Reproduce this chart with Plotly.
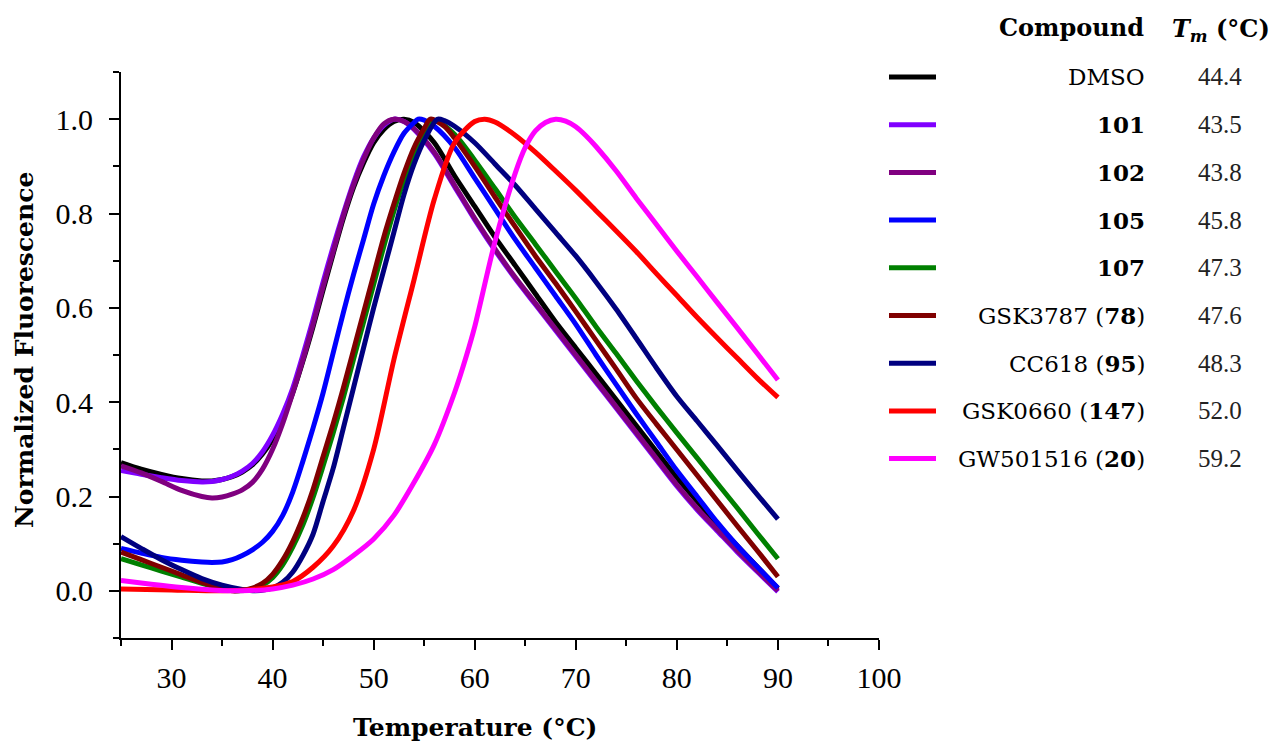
import plotly.graph_objects as go

# Melting curves (normalized fluorescence vs temperature) for each compound
compounds = ["DMSO", "<b>101</b>", "<b>102</b>", "<b>105</b>", "<b>107</b>",
             "GSK3787 (<b>78</b>)", "CC618 (<b>95</b>)", "GSK0660 (<b>147</b>)", "GW501516 (<b>20</b>)"]
tm_values = ["44.4", "43.5", "43.8", "45.8", "47.3", "47.6", "48.3", "52.0", "59.2"]
colors = ["#000000", "#8000ff", "#800080", "#0000ff", "#008000",
          "#800000", "#000080", "#ff0000", "#ff00ff"]

t_dmso = [25, 27, 29, 31, 33, 34, 35, 36, 37, 38, 39, 40, 41, 42, 43, 44, 45, 46, 47, 48, 49, 50, 51, 52, 53, 54,
          56, 58, 60, 62, 64, 66, 68, 70, 72, 74, 76, 78, 80, 82, 84, 86, 88, 90]
f_dmso = [0.272, 0.258, 0.247, 0.238, 0.233, 0.233, 0.236, 0.242, 0.252, 0.267, 0.29, 0.322, 0.365, 0.42, 0.487,
          0.56, 0.638, 0.715, 0.79, 0.855, 0.907, 0.95, 0.978, 0.995, 1.0, 0.993,
          0.95, 0.88, 0.815, 0.75, 0.69, 0.63, 0.57, 0.515, 0.46, 0.405, 0.35, 0.295, 0.24, 0.19, 0.14, 0.095,
          0.05, 0.005]

t_101 = [25, 27, 29, 31, 33, 34, 35, 36, 37, 38, 39, 40, 41, 42, 43, 44, 45, 46, 47, 48, 49, 50, 51, 52, 53, 54,
         56, 58, 60, 62, 64, 66, 68, 70, 72, 74, 76, 78, 80, 82, 84, 86, 88, 90]
f_101 = [0.255, 0.247, 0.24, 0.234, 0.231, 0.232, 0.236, 0.243, 0.254, 0.27, 0.295, 0.33, 0.375, 0.43, 0.5,
         0.575, 0.655, 0.73, 0.8, 0.865, 0.92, 0.96, 0.987, 1.0, 0.995, 0.978,
         0.927, 0.857, 0.787, 0.722, 0.662, 0.607, 0.552, 0.497, 0.442, 0.387, 0.332, 0.277, 0.222, 0.172,
         0.127, 0.082, 0.04, -0.002]

t_102 = [25, 27, 29, 31, 33, 34, 35, 36, 37, 38, 39, 40, 41, 42, 43, 44, 45, 46, 47, 48, 49, 50, 51, 52, 53, 54,
         56, 58, 60, 62, 64, 66, 68, 70, 72, 74, 76, 78, 80, 82, 84, 86, 88, 90]
f_102 = [0.265, 0.25, 0.232, 0.213, 0.2, 0.197, 0.199, 0.205, 0.214, 0.23, 0.258, 0.3, 0.355, 0.42, 0.49,
         0.565, 0.645, 0.72, 0.795, 0.86, 0.915, 0.96, 0.99, 1.0, 0.995, 0.98,
         0.93, 0.86, 0.79, 0.725, 0.665, 0.61, 0.555, 0.5, 0.445, 0.39, 0.335, 0.28, 0.225, 0.175, 0.13, 0.085,
         0.042, 0.0]

t_105 = [25, 27, 29, 31, 33, 34, 35, 36, 37, 38, 39, 40, 41, 42, 43, 44, 45, 46, 47, 48, 49, 50, 51, 52, 53, 54,
         54.4, 55, 56, 58, 60, 62, 64, 66, 68, 70, 72, 74, 76, 78, 80, 82, 84, 86, 88, 90]
f_105 = [0.09, 0.08, 0.071, 0.065, 0.061, 0.06, 0.061, 0.066, 0.075, 0.087, 0.103, 0.126, 0.16, 0.21, 0.275,
         0.345, 0.42, 0.505, 0.59, 0.67, 0.745, 0.82, 0.88, 0.93, 0.97, 0.993,
         1.0, 0.998, 0.985, 0.94, 0.875, 0.81, 0.745, 0.685, 0.625, 0.565, 0.5, 0.437, 0.375, 0.315, 0.255,
         0.2, 0.145, 0.095, 0.05, 0.006]

t_107 = [25, 27, 29, 31, 33, 35, 36.5, 38, 39, 40, 41, 42, 43, 44, 45, 46, 47, 48, 49, 50, 51, 52, 53, 54, 55,
         56, 58, 60, 62, 64, 66, 68, 70, 72, 74, 76, 78, 80, 82, 84, 86, 88, 90]
f_107 = [0.068, 0.055, 0.042, 0.029, 0.016, 0.005, 0.0, 0.004, 0.012, 0.028, 0.055, 0.093, 0.14, 0.198, 0.265,
         0.335, 0.41, 0.49, 0.57, 0.65, 0.73, 0.805, 0.87, 0.925, 0.968,
         0.997, 0.968, 0.913, 0.853, 0.792, 0.735, 0.677, 0.62, 0.56, 0.503, 0.445, 0.389, 0.335, 0.282,
         0.228, 0.175, 0.121, 0.068]

t_78 = [25, 27, 29, 31, 33, 35, 36, 37, 38, 39, 40, 41, 42, 43, 44, 45, 46, 47, 48, 49, 50, 51, 52, 53, 54, 55,
        55.6, 57, 58, 60, 62, 64, 66, 68, 70, 72, 74, 76, 78, 80, 82, 84, 86, 88, 90]
f_78 = [0.082, 0.066, 0.05, 0.034, 0.018, 0.005, 0.0, 0.001, 0.006, 0.016, 0.035, 0.065, 0.105, 0.155, 0.215,
        0.285, 0.355, 0.43, 0.51, 0.59, 0.67, 0.75, 0.82, 0.885, 0.94, 0.98,
        1.0, 0.985, 0.96, 0.9, 0.835, 0.772, 0.71, 0.652, 0.592, 0.531, 0.47, 0.408, 0.353, 0.299, 0.245,
        0.191, 0.137, 0.084, 0.03]

t_95 = [25, 27, 29, 31, 33, 35, 37, 38.3, 40, 41, 42, 43, 44, 45, 46, 47, 48, 49, 50, 51, 52, 53, 54, 55, 56.3,
        57, 58, 60, 62, 64, 66, 68, 70, 72, 74, 76, 78, 80, 82, 84, 86, 88, 90]
f_95 = [0.115, 0.09, 0.066, 0.045, 0.026, 0.012, 0.003, 0.0, 0.006, 0.018, 0.04, 0.075, 0.12, 0.19, 0.26,
        0.345, 0.43, 0.515, 0.6, 0.68, 0.76, 0.84, 0.905, 0.955, 1.0,
        0.997, 0.985, 0.95, 0.905, 0.86, 0.81, 0.76, 0.71, 0.655, 0.597, 0.535, 0.472, 0.412, 0.36, 0.308, 0.255,
        0.203, 0.152]

t_147 = [25, 30, 35, 38, 40, 42, 44, 46, 48, 50, 52, 54, 56, 58, 60, 61, 62, 64, 66, 68, 70, 72, 74, 76, 78,
         80, 82, 84, 86, 88, 90]
f_147 = [0.004, 0.002, 0.0, 0.003, 0.008, 0.02, 0.05, 0.095, 0.17, 0.3, 0.49, 0.66, 0.83, 0.95, 0.995, 1.0,
         0.994, 0.966, 0.93, 0.89, 0.849, 0.806, 0.763, 0.719, 0.672, 0.626, 0.58, 0.536, 0.493, 0.45, 0.41]

t_20 = [25, 28, 31, 34, 37, 40, 42, 44, 46, 48, 50, 52, 54, 56, 58, 59.2, 60, 62, 64, 65, 66, 67, 68, 69, 70,
        71, 72, 74, 76, 78, 80, 82, 84, 86, 88, 90]
f_20 = [0.022, 0.014, 0.007, 0.002, 0.0, 0.004, 0.012, 0.025, 0.045, 0.075, 0.11, 0.16, 0.23, 0.31, 0.42, 0.5,
        0.56, 0.74, 0.885, 0.94, 0.975, 0.993, 1.0, 0.996, 0.984, 0.965, 0.942, 0.89, 0.832, 0.776, 0.72,
        0.666, 0.611, 0.557, 0.502, 0.447]

temps = [t_dmso, t_101, t_102, t_105, t_107, t_78, t_95, t_147, t_20]
fluor = [f_dmso, f_101, f_102, f_105, f_107, f_78, f_95, f_147, f_20]

W, H = 1272, 742
ML, MR, MT, MB = 121, 393, 72, 104
PW, PH = W - ML - MR, H - MT - MB
SERIF = "Liberation Serif"
WIDE_SERIF = "DejaVu Serif"


def px_x(p):
    return (p - ML) / PW


def px_y(p):
    return (H - MB - p) / PH


fig = go.Figure()
for t, f, name, c in zip(temps, fluor, compounds, colors):
    fig.add_trace(go.Scatter(x=t, y=f, mode="lines", name=name,
                             line=dict(color=c, width=5, shape="spline", smoothing=0.8),
                             showlegend=False))

axis_common = dict(showline=True, linecolor="black", linewidth=2, ticks="outside",
                   ticklen=10, tickwidth=2, tickcolor="black", showgrid=False, zeroline=False,
                   tickfont=dict(family=SERIF, size=30, color="black"))

fig.update_xaxes(range=[25, 100], dtick=10, tick0=0, ticklabelstandoff=2,
                 minor=dict(ticks="outside", ticklen=6, tickwidth=2, tickcolor="black", dtick=5, tick0=25),
                 **axis_common)
fig.update_yaxes(range=[-0.1, 1.1], dtick=0.2, tick0=0, tickformat=".1f", ticklabelstandoff=10,
                 minor=dict(ticks="outside", ticklen=6, tickwidth=2, tickcolor="black", dtick=0.1, tick0=0),
                 **axis_common)


def note(text, x, y, xanchor="center", family=WIDE_SERIF, size=23, angle=0, color="black"):
    return dict(text=text, x=px_x(x), y=px_y(y), xref="paper", yref="paper",
                xanchor=xanchor, yanchor="middle", showarrow=False, textangle=angle,
                font=dict(family=family, size=size, color=color))


annotations = [
    note("<b>Temperature (°C)</b>", 475, 727, size=25),
    note("<b>Normalized Fluorescence</b>", 24, 350, size=25, angle=-90),
    note("<b>Compound</b>", 1146, 28, xanchor="right", size=24),
    note("<b><i>T<sub>m</sub></i> (°C)</b>", 1221, 30, size=24),
]
shapes = []
row0, row_step = 77, 47.7
for i, (name, tm, c) in enumerate(zip(compounds, tm_values, colors)):
    yc = row0 + i * row_step
    shapes.append(dict(type="line", xref="paper", yref="paper", x0=px_x(889), x1=px_x(936),
                       y0=px_y(yc), y1=px_y(yc), line=dict(color=c, width=5)))
    annotations.append(note(name, 1147, yc, xanchor="right", size=23))
    annotations.append(note(tm, 1220, yc, family=SERIF, size=25, color="#222222"))

fig.update_layout(width=W, height=H, margin=dict(l=ML, r=MR, t=MT, b=MB),
                  paper_bgcolor="white", plot_bgcolor="white",
                  font=dict(family=SERIF, color="black"),
                  annotations=annotations, shapes=shapes)

fig.write_html("out.html")
